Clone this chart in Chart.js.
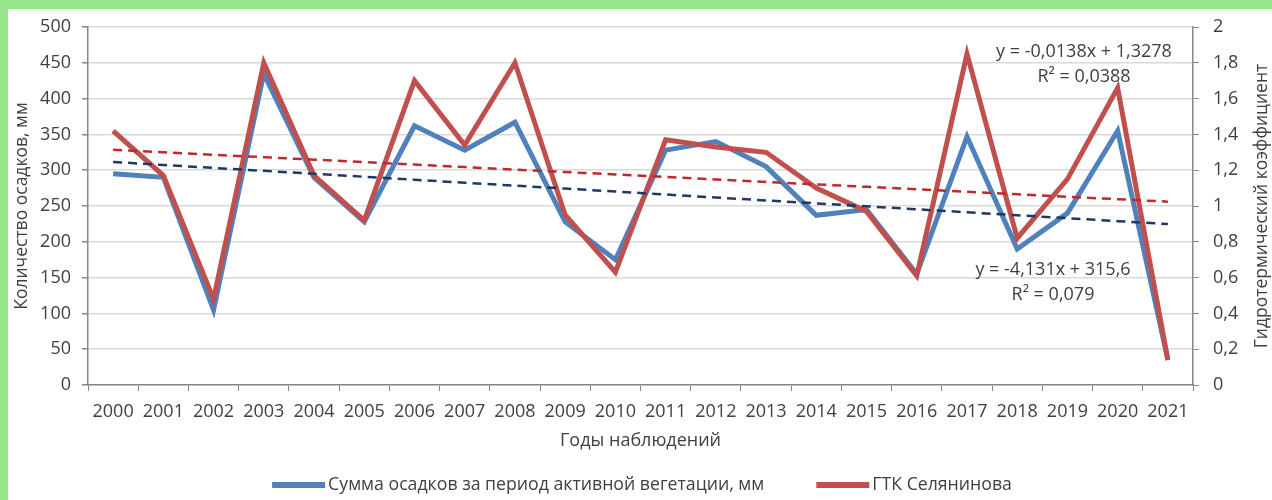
<!DOCTYPE html>
<html lang="ru">
<head>
<meta charset="utf-8">
<title>Осадки и ГТК Селянинова</title>
<script src="https://cdn.jsdelivr.net/npm/chart.js@4/dist/chart.umd.min.js"></script>
<style>
  html, body { margin: 0; padding: 0; }
  body { background: #98e68a; width: 1272px; height: 500px; overflow: hidden; }
  #wrap { position: absolute; left: 8px; top: 9px; width: 1264px; height: 491px; background: #fff; }
</style>
</head>
<body>
<div id="wrap"><canvas id="chart"></canvas></div>
<script>
// годы наблюдений
const years = ['2000', '2001', '2002', '2003', '2004', '2005', '2006', '2007', '2008', '2009', '2010',
  '2011', '2012', '2013', '2014', '2015', '2016', '2017', '2018', '2019', '2020', '2021'];

// сумма осадков за период активной вегетации, мм
const precip = [295, 290, 105, 435, 290, 228, 362, 328, 367, 228, 175,
  328, 340, 305, 237, 245, 155, 347, 190, 240, 355, 35];

// ГТК Селянинова
const gtk = [1.42, 1.17, 0.48, 1.80, 1.17, 0.92, 1.70, 1.34, 1.80, 0.95, 0.63,
  1.37, 1.33, 1.30, 1.10, 0.97, 0.61, 1.85, 0.82, 1.15, 1.66, 0.14];

// линейные тренды (коэффициенты из уравнений на графике)
const precipTrend = { k: -4.131, b: 315.6 };
const gtkTrend = { k: -0.0138, b: 1.3278 };

const leftTicks = [0, 50, 100, 150, 200, 250, 300, 350, 400, 450, 500];
const rightTicks = [0, 0.2, 0.4, 0.6, 0.8, 1, 1.2, 1.4, 1.6, 1.8, 2];

const trendLabels = [
  { lines: ['y = -0,0138x + 1,3278', 'R² = 0,0388'], x: 1076, y: 43 },
  { lines: ['y = -4,131x + 315,6', 'R² = 0,079'], x: 1045, y: 261 }
];

const FONT = '"Open Sans", "DejaVu Sans", sans-serif';
const TEXT = '#404040';
const AXIS = '#868686';

const trendPoints = t => years.map((_, i) => t.k * (i + 1) + t.b);
const fmt = v => String(Number(v.toFixed(1))).replace('.', ',');

// без лишних отступов сверху/снизу от подписей вертикальных осей
const fixWidth = w => scale => {
  scale.width = w;
  scale.paddingTop = 0;
  scale.paddingBottom = 0;
};

// подписи уравнений, заголовок правой оси и легенда
const extras = {
  id: 'extras',
  afterDraw(chart) {
    const ctx = chart.ctx;
    const area = chart.chartArea;
    ctx.save();
    ctx.fillStyle = TEXT;
    ctx.font = '18px ' + FONT;
    ctx.textAlign = 'center';
    ctx.textBaseline = 'middle';
    trendLabels.forEach(l => {
      l.lines.forEach((s, i) => ctx.fillText(s, l.x, l.y + i * 25));
    });

    ctx.save();
    ctx.font = '17.5px ' + FONT;
    ctx.translate(1254, (area.top + area.bottom) / 2);
    ctx.rotate(-Math.PI / 2);
    ctx.fillText('Гидротермический коэффициент', 0, 0);
    ctx.restore();

    // легенда: только основные ряды
    const items = chart.data.datasets.slice(0, 2);
    const sample = 53, gapText = 3, gapItem = 52, ly = 476;
    ctx.font = '17.7px ' + FONT;
    ctx.textAlign = 'left';
    const widths = items.map(d => sample + gapText + ctx.measureText(d.label).width);
    const total = widths.reduce((a, b) => a + b, 0) + gapItem * (items.length - 1);
    let x = chart.width / 2 + 2 - total / 2;
    items.forEach((d, i) => {
      ctx.fillStyle = d.borderColor;
      ctx.fillRect(x, ly - 3, sample, 6);
      ctx.fillStyle = TEXT;
      ctx.fillText(d.label, x + sample + gapText, ly);
      x += widths[i] + gapItem;
    });
    ctx.restore();
  }
};

new Chart(document.getElementById('chart'), {
  type: 'line',
  data: {
    labels: years,
    datasets: [
      {
        label: 'Сумма осадков за период активной вегетации, мм',
        data: precip,
        yAxisID: 'y',
        borderColor: '#4f81bd',
        borderWidth: 5,
        pointRadius: 0,
        tension: 0,
        order: 3
      },
      {
        label: 'ГТК Селянинова',
        data: gtk,
        yAxisID: 'y1',
        borderColor: '#c0504d',
        borderWidth: 5,
        pointRadius: 0,
        tension: 0,
        order: 2
      },
      {
        label: 'trend-precip',
        data: trendPoints(precipTrend),
        yAxisID: 'y',
        borderColor: '#1f3864',
        borderWidth: 2.5,
        borderDash: [9, 6],
        pointRadius: 0,
        order: 1
      },
      {
        label: 'trend-gtk',
        data: trendPoints(gtkTrend),
        yAxisID: 'y1',
        borderColor: '#c0282d',
        borderWidth: 2.5,
        borderDash: [9, 6],
        pointRadius: 0,
        order: 0
      }
    ]
  },
  options: {
    responsive: true,
    maintainAspectRatio: false,
    animation: false,
    layout: { padding: { top: 18, bottom: 44 } },
    plugins: {
      tooltip: { enabled: false },
      legend: { display: false }
    },
    scales: {
      x: {
        offset: true,
        grid: { offset: true, drawOnChartArea: false, tickLength: 6, tickColor: AXIS },
        border: { color: AXIS, width: 1.5 },
        ticks: { color: TEXT, font: { family: FONT, size: 18 }, padding: 10, maxRotation: 0, autoSkip: false },
        title: { display: true, text: 'Годы наблюдений', color: TEXT, font: { family: FONT, size: 18 } },
        afterFit(scale) { scale.height = 71; }
      },
      y: {
        position: 'left',
        min: 0,
        max: 500,
        afterBuildTicks(scale) { scale.ticks = leftTicks.map(v => ({ value: v })); },
        grid: { color: '#d9d9d9', lineWidth: 1.5, tickLength: 6, tickColor: AXIS },
        border: { color: AXIS, width: 1.5 },
        ticks: { color: TEXT, font: { family: FONT, size: 18 }, padding: 11 },
        title: { display: true, text: 'Количество осадков, мм', color: TEXT, font: { family: FONT, size: 17.5 } },
        afterFit: fixWidth(80)
      },
      y1: {
        position: 'right',
        min: 0,
        max: 2,
        afterBuildTicks(scale) { scale.ticks = rightTicks.map(v => ({ value: v })); },
        grid: { drawOnChartArea: false, tickLength: 6, tickColor: AXIS },
        border: { color: AXIS, width: 1.5 },
        ticks: { color: TEXT, font: { family: FONT, size: 18 }, padding: 14, callback: v => fmt(v) },
        afterFit: fixWidth(79)
      }
    }
  },
  plugins: [extras]
});
</script>
</body>
</html>
